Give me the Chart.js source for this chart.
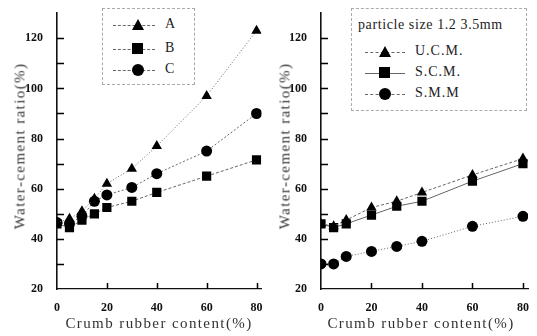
<!DOCTYPE html>
<html>
<head>
<meta charset="utf-8">
<script src="https://cdn.jsdelivr.net/npm/chart.js@4.4.1/dist/chart.umd.min.js"></script>
<style>
  body { margin: 0; background: #fff; width: 537px; height: 336px; overflow: hidden; position: relative; font-family: "Liberation Serif", "DejaVu Serif", serif; }
  canvas { position: absolute; top: 0; }
  #leftChart { left: 0; }
  #rightChart { left: 268px; }
  .ytitle { position: absolute; white-space: nowrap; font-size: 15px; letter-spacing: 1.4px; color: #333; transform: translate(-50%, -50%) rotate(-90deg); }
  .xtitle { position: absolute; white-space: nowrap; font-size: 15px; letter-spacing: 1.4px; color: #333; transform: translate(-50%, -50%); }
  .legend { position: absolute; border: 1px dashed #aaa; background: #fff; }
  .row { position: absolute; height: 14px; }
  .row .ln { position: absolute; top: 7px; height: 0; border-top: 1px dashed #666; }
  .row .mk { position: absolute; }
  .row .lb { position: absolute; top: -2px; font-size: 14px; letter-spacing: 1px; color: #222; white-space: nowrap; }
  .tri { width: 0; height: 0; border-left: 6px solid transparent; border-right: 6px solid transparent; border-bottom: 11px solid #000; }
  .sq { width: 11px; height: 11px; background: #000; }
  .ci { width: 12px; height: 12px; border-radius: 50%; background: #000; }
</style>
</head>
<body>
<canvas id="leftChart" width="268" height="336"></canvas>
<canvas id="rightChart" width="269" height="336"></canvas>

<div class="ytitle" style="left:20px; top:146px;">Water-cement ratio(%)</div>
<div class="ytitle" style="left:285px; top:146px;">Water-cement ratio(%)</div>
<div class="xtitle" style="left:159px; top:323px;">Crumb rubber content(%)</div>
<div class="xtitle" style="left:421px; top:323px;">Crumb rubber content(%)</div>

<div class="legend" id="leftLegend" style="left:102px; top:8px; width:91px; height:75px;"></div>
<div class="legend" id="rightLegend" style="left:351px; top:8px; width:174px; height:101px;">
  <div style="position:absolute; left:6px; top:8px; font-size:14px; letter-spacing:0.6px; color:#222; white-space:nowrap;">particle size 1.2 3.5mm</div>
</div>

<script>
// Left panel: crumb rubber content (%) vs water-cement ratio (%)
const leftX = [0, 5, 10, 15, 20, 30, 40, 60, 80];
const leftLabels = ['A', 'B', 'C'];
const leftA = [46.5, 48, 51, 56, 62, 68, 77, 97, 123];
const leftB = [46, 44.5, 47.5, 50, 52.5, 55, 58.5, 65, 71.5];
const leftC = [46.5, 46, 49, 55, 57.5, 60.5, 66, 75, 90];

// Right panel: particle size 1.2-3.5mm
const rightX = [0, 5, 10, 20, 30, 40, 60, 80];
const rightLabels = ['U.C.M.', 'S.C.M.', 'S.M.M'];
const rightU = [46, 45, 47.5, 52.5, 55, 58.5, 65.5, 72];
const rightS = [46, 44.5, 46, 49.5, 53, 55, 63, 70];
const rightM = [30, 30, 33, 35, 37, 39, 45, 49];

const xTicks = [0, 20, 40, 60, 80];
const yTicks = [20, 40, 60, 80, 100, 120];
const yMinorTicks = [30, 40, 50, 60, 70, 80, 90, 100, 110, 120];

const markers = ['triangle', 'rect', 'circle'];
const markerRadius = { triangle: 6, rect: 6.5, circle: 5.5 };
const markerCss = { triangle: 'tri', rect: 'sq', circle: 'ci' };

const tickFont = { family: "'Liberation Serif', 'DejaVu Serif', serif", size: 12, weight: 'bold' };

function toPoints(xs, ys) {
    return xs.map((x, i) => ({ x: x, y: ys[i] }));
}

// inward tick marks like the original figure
const innerTicks = {
    id: 'innerTicks',
    afterDatasetsDraw(chart) {
        const c = chart.ctx;
        const area = chart.chartArea;
        const xs = chart.scales.x, ys = chart.scales.y;
        c.save();
        c.strokeStyle = '#000';
        c.lineWidth = 1.5;
        c.setLineDash([]);
        c.beginPath();
        yMinorTicks.forEach(v => {
            const py = Math.round(ys.getPixelForValue(v)) + 0.5;
            c.moveTo(area.left, py);
            c.lineTo(area.left + 7, py);
        });
        xTicks.forEach(v => {
            if (v === 0) return;
            const px = Math.round(xs.getPixelForValue(v)) + 0.5;
            c.moveTo(px, area.bottom);
            c.lineTo(px, area.bottom - 6);
        });
        c.stroke();
        c.restore();
    }
};

function makeChart(canvasId, xs, seriesList, labels, dashes, yWidth, padRight) {
    const el = document.getElementById(canvasId);
    const datasets = seriesList.map((ys, i) => ({
        label: labels[i],
        data: toPoints(xs, ys),
        showLine: true,
        borderColor: '#666',
        borderWidth: 1,
        borderDash: dashes[i],
        pointStyle: markers[i],
        pointRadius: markerRadius[markers[i]],
        pointBackgroundColor: '#000',
        pointBorderColor: '#000',
        pointBorderWidth: 0,
        tension: 0
    }));
    return new Chart(el, {
        type: 'scatter',
        data: { datasets: datasets },
        plugins: [innerTicks],
        options: {
            responsive: false,
            animation: false,
            layout: { padding: { top: 9, right: padRight, left: 0, bottom: 0 } },
            plugins: { legend: { display: false }, tooltip: { enabled: false } },
            scales: {
                x: {
                    type: 'linear',
                    min: 0,
                    max: 82,
                    afterBuildTicks: (s) => { s.ticks = xTicks.map(v => ({ value: v })); },
                    afterFit: (s) => { s.height = 47; },
                    ticks: { color: '#111', font: tickFont, padding: 4, maxRotation: 0 },
                    grid: { display: false },
                    border: { display: true, color: '#111', width: 1.2 }
                },
                y: {
                    type: 'linear',
                    min: 20,
                    max: 130,
                    afterBuildTicks: (s) => { s.ticks = yTicks.map(v => ({ value: v })); },
                    afterFit: (s) => { s.width = yWidth; },
                    ticks: { color: '#111', font: tickFont, padding: 6 },
                    grid: { display: false },
                    border: { display: true, color: '#111', width: 1.6 }
                }
            }
        }
    });
}

function buildLegend(elId, labels, dashes, rows, lineX, lineW, markX, labelX) {
    const box = document.getElementById(elId);
    labels.forEach((lab, i) => {
        const row = document.createElement('div');
        row.className = 'row';
        row.style.left = '0px';
        row.style.top = (rows[i] - 7) + 'px';
        row.style.width = '100%';
        const ln = document.createElement('div');
        ln.className = 'ln';
        ln.style.left = lineX + 'px';
        ln.style.width = lineW + 'px';
        ln.style.borderTopStyle = dashes[i].length ? 'dashed' : 'solid';
        const mk = document.createElement('div');
        mk.className = 'mk ' + markerCss[markers[i]];
        mk.style.left = (markX - 6) + 'px';
        mk.style.top = '1px';
        const lb = document.createElement('div');
        lb.className = 'lb';
        lb.style.left = labelX + 'px';
        lb.textContent = lab;
        row.appendChild(ln);
        row.appendChild(mk);
        row.appendChild(lb);
        box.appendChild(row);
    });
}

const leftDashes = [[1, 2], [3, 2], [2, 2]];
const rightDashes = [[3, 2], [], [1, 2]];

makeChart('leftChart', leftX, [leftA, leftB, leftC], leftLabels, leftDashes, 57, 5);
makeChart('rightChart', rightX, [rightU, rightS, rightM], rightLabels, rightDashes, 53, 9);

buildLegend('leftLegend', leftLabels, leftDashes, [16, 40, 61], 10, 42, 35, 62);
buildLegend('rightLegend', rightLabels, rightDashes, [43, 64, 85], 13, 40, 33, 63);
</script>
</body>
</html>
